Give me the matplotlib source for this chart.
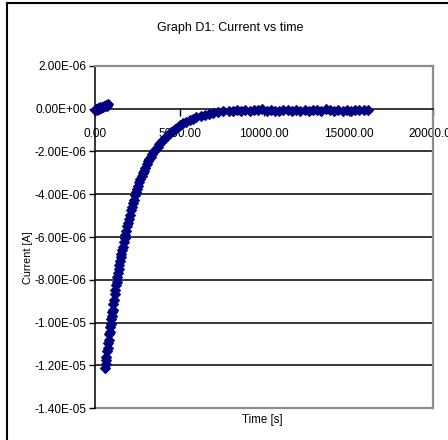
import matplotlib
matplotlib.use("Agg")
import matplotlib.pyplot as plt
from matplotlib.lines import Line2D
import numpy as np

plt.rcParams['font.family'] = ['Liberation Sans', 'DejaVu Sans']

title = "Graph D1: Current vs time"
x_label = "Time [s]"
y_label = "Current [A]"

x_ticks = [0, 5000, 10000, 15000, 20000]
x_tick_labels = ["0.00", "5000.00", "10000.00", "15000.00", "20000.00"]
y_ticks = [2e-6, 0.0, -2e-6, -4e-6, -6e-6, -8e-6, -1.0e-5, -1.2e-5, -1.4e-5]
y_tick_labels = ["2.00E-06", "0.00E+00", "-2.00E-06", "-4.00E-06", "-6.00E-06",
                 "-8.00E-06", "-1.00E-05", "-1.20E-05", "-1.40E-05"]

# initial segment near zero (time s, current uA)
t_start_s = [0, 60, 120, 180, 240, 300, 360, 420, 480, 540, 600, 660, 720, 770]
i_start_uA = [-0.08, -0.02, -0.05, 0.03, 0.0, 0.06, 0.04, 0.10, 0.08, 0.14, 0.12, 0.18, 0.15, 0.20]

# decay segment (time s, current uA)
t_decay_s = [600, 625, 650, 680, 710, 740, 770, 800, 830, 860, 890, 920, 950, 980,
             1010, 1040, 1080, 1120, 1160, 1200, 1240, 1280, 1320, 1360, 1400, 1440,
             1480, 1520, 1560, 1600, 1650, 1700, 1750, 1800, 1850, 1900, 1950, 2000,
             2060, 2120, 2180, 2240, 2300, 2360, 2420, 2480, 2550, 2620, 2690, 2760,
             2830, 2900, 2980, 3060, 3140, 3220, 3300, 3400, 3500, 3600, 3700, 3800,
             3900, 4000, 4120, 4240, 4360, 4480, 4600, 4750, 4900, 5050, 5200, 5400,
             5600, 5800, 6000, 6250, 6500, 6750, 7000, 7300, 7600, 7900,
             8150, 8400, 8650, 8900, 9150, 9400, 9650, 9900, 10150, 10400, 10650,
             10900, 11150, 11400, 11650, 11900, 12150, 12400, 12650, 12900, 13150,
             13400, 13650, 13900, 14150, 14400, 14650, 14900, 15150, 15400, 15650,
             15900, 16150]
i_decay_uA = [-12.15, -11.95, -11.75, -11.6, -11.35, -11.2, -10.95, -10.8, -10.55, -10.45,
              -10.2, -10.05, -9.85, -9.7, -9.5, -9.4, -9.15, -8.95, -8.65, -8.5, -8.25,
              -8.1, -7.85, -7.7, -7.5, -7.3, -7.1, -6.95, -6.8, -6.6, -6.45, -6.25, -6.05,
              -5.9, -5.7, -5.5, -5.35, -5.15, -4.95, -4.75, -4.6, -4.4, -4.25, -4.05,
              -3.9, -3.75, -3.6, -3.45, -3.3, -3.15, -3.0, -2.9, -2.75, -2.6, -2.45,
              -2.35, -2.25, -2.12, -2.0, -1.88, -1.77, -1.66, -1.56, -1.47, -1.37,
              -1.27, -1.18, -1.1, -1.02, -0.93, -0.84, -0.76, -0.69, -0.61, -0.53,
              -0.46, -0.4, -0.34, -0.28, -0.24, -0.2, -0.16, -0.12, -0.1,
              -0.11, -0.05, -0.09, -0.04, -0.12, -0.06, -0.08, -0.03, -0.11, -0.05,
              -0.09, -0.12, -0.04, -0.07, -0.10, -0.04, -0.09, -0.05, -0.11, -0.04,
              -0.08, -0.10, -0.03, -0.07, -0.11, -0.05, -0.09, -0.04, -0.10, -0.06,
              -0.08, -0.04, -0.07]

navy = "#000080"
gray = "#8c8c8c"

fig = plt.figure(figsize=(4.48, 4.40), dpi=100)
W, H = 448, 440
ax = fig.add_axes([95 / W, 1 - 408 / H, 338 / W, 342 / H])

for t, i in [(t_start_s, i_start_uA), (t_decay_s, i_decay_uA)]:
    ax.plot(t, np.array(i) * 1e-6, linestyle="none", marker="D", markersize=5.6,
            color=navy, markeredgecolor=navy, markeredgewidth=0.8,
            clip_on=False, zorder=5)

ax.set_xlim(x_ticks[0], x_ticks[-1])
ax.set_ylim(y_ticks[-1], y_ticks[0])

# grid lines (inner y ticks)
for yv in y_ticks[2:-1]:
    ax.axhline(yv, color="black", linewidth=1.1, zorder=1)
ax.axhline(y_ticks[-1], color=gray, linewidth=1.6, zorder=1, clip_on=False)

ax.spines['bottom'].set_position(('data', 0))
ax.spines['bottom'].set_color('black')
ax.spines['bottom'].set_linewidth(1.1)
ax.spines['left'].set_color('black')
ax.spines['left'].set_linewidth(1.1)
ax.spines['top'].set_color(gray)
ax.spines['top'].set_linewidth(1.6)
ax.spines['right'].set_color(gray)
ax.spines['right'].set_linewidth(1.6)

ax.set_xticks(x_ticks)
ax.set_xticklabels(x_tick_labels, fontsize=8.5)
ax.set_yticks(y_ticks)
ax.set_yticklabels(y_tick_labels, fontsize=8.5)
ax.tick_params(axis='x', direction='out', length=5, width=1, pad=9)
ax.tick_params(axis='y', direction='out', length=4, width=1, pad=2)

fig.text(230 / W, 1 - 28 / H, title, ha='center', va='center', fontsize=9)
fig.text(262 / W, 1 - 420 / H, x_label, ha='center', va='center', fontsize=8.3)
fig.text(28 / W, 1 - 258 / H, y_label, ha='center', va='center', fontsize=7.8,
         rotation=90)

# outer chart frame (left and top edges visible)
fig.add_artist(Line2D([7 / W, 7 / W], [0, 1 - 3 / H], color='black', linewidth=1.5,
                      transform=fig.transFigure))
fig.add_artist(Line2D([7 / W, 1], [1 - 3 / H, 1 - 3 / H], color='black', linewidth=1.5,
                      transform=fig.transFigure))

fig.savefig("out.png", dpi=100)
